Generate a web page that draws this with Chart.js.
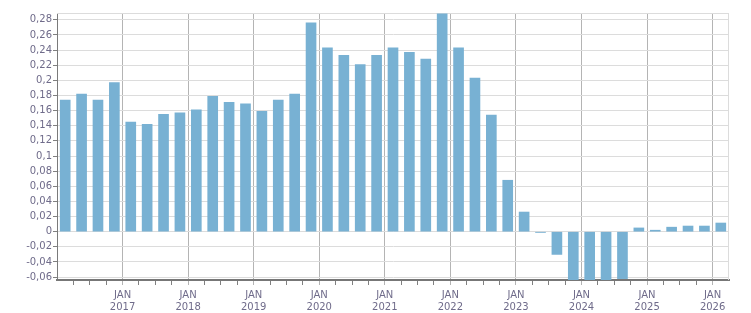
<!DOCTYPE html>
<html>
<head>
<meta charset="utf-8">
<script src="https://cdn.jsdelivr.net/npm/chart.js@4/dist/chart.umd.min.js"></script>
<style>
  html, body { margin: 0; padding: 0; background: #fff; }
  #wrap { width: 751px; height: 313px; position: relative; }
</style>
</head>
<body>
<div id="wrap"><canvas id="c" width="751" height="313"></canvas></div>
<script>
// Quarterly categories, Q1 2016 .. Q1 2026
const categories = [
  '2016 Q1','2016 Q2','2016 Q3','2016 Q4',
  '2017 Q1','2017 Q2','2017 Q3','2017 Q4',
  '2018 Q1','2018 Q2','2018 Q3','2018 Q4',
  '2019 Q1','2019 Q2','2019 Q3','2019 Q4',
  '2020 Q1','2020 Q2','2020 Q3','2020 Q4',
  '2021 Q1','2021 Q2','2021 Q3','2021 Q4',
  '2022 Q1','2022 Q2','2022 Q3','2022 Q4',
  '2023 Q1','2023 Q2','2023 Q3','2023 Q4',
  '2024 Q1','2024 Q2','2024 Q3','2024 Q4',
  '2025 Q1','2025 Q2','2025 Q3','2025 Q4',
  '2026 Q1'
];
const values = [
  0.174, 0.182, 0.174, 0.197,
  0.145, 0.142, 0.155, 0.157,
  0.161, 0.179, 0.171, 0.169,
  0.159, 0.174, 0.182, 0.276,
  0.243, 0.233, 0.221, 0.233,
  0.243, 0.237, 0.228, 0.288,
  0.243, 0.203, 0.154, 0.068,
  0.026, -0.001, -0.030, -0.070,
  -0.072, -0.070, -0.062, 0.005,
  0.002, 0.006, 0.0075, 0.0075,
  0.0115
];
const startYear = 2016;
const yearTickLabels = ['2017','2018','2019','2020','2021','2022','2023','2024','2025','2026'];
const monthLabel = 'JAN';

const TEXT = '#6f6b8a';
const FONT = { family: 'DejaVu Sans', size: 10, lineHeight: 1.2 };

const points = values.map((v, i) => ({ x: i + 0.5, y: v }));

const frame = {
  id: 'frame',
  beforeDatasetsDraw(chart) {
    const { ctx, chartArea: a } = chart;
    ctx.save();
    ctx.strokeStyle = '#dcdcdc';
    ctx.lineWidth = 1;
    ctx.beginPath();
    ctx.moveTo(a.left, Math.round(a.top) + 0.5);
    ctx.lineTo(a.right, Math.round(a.top) + 0.5);
    ctx.moveTo(Math.round(a.right) - 0.5, a.top);
    ctx.lineTo(Math.round(a.right) - 0.5, a.bottom);
    ctx.stroke();
    ctx.restore();
  }
};

new Chart(document.getElementById('c'), {
  type: 'bar',
  data: {
    labels: categories,
    datasets: [{
      data: points,
      backgroundColor: '#78b1d3',
      borderWidth: 0,
      barThickness: 10
    }]
  },
  options: {
    responsive: false,
    animation: false,
    layout: { padding: { left: 0, right: 22, top: 13, bottom: 0 } },
    plugins: { legend: { display: false }, tooltip: { enabled: false } },
    scales: {
      x: {
        type: 'linear',
        min: 0,
        max: categories.length,
        offset: false,
        afterFit(s) { s.height = 33; },
        border: { color: '#777777', width: 2 },
        grid: {
          offset: false,
          color: (c) => (c.tick && c.tick.value % 4 === 0 && c.tick.value > 0 && c.tick.value < categories.length) ? '#b4b4b4' : 'rgba(0,0,0,0)',
          tickColor: (c) => {
            if (!c.tick || c.tick.value <= 0 || c.tick.value >= categories.length) return 'rgba(0,0,0,0)';
            return c.tick.value % 4 === 0 ? '#b4b4b4' : '#808080';
          },
          tickLength: 5,
          lineWidth: 1
        },
        ticks: {
          stepSize: 1,
          autoSkip: false,
          maxTicksLimit: 200,
          maxRotation: 0,
          minRotation: 0,
          padding: 4,
          color: TEXT,
          font: FONT,
          callback: (v) => {
            if (v > 0 && v < categories.length && v % 4 === 0) {
              const y = yearTickLabels.indexOf(String(startYear + v / 4));
              return y >= 0 ? [monthLabel, yearTickLabels[y]] : '';
            }
            return '';
          }
        }
      },
      y: {
        min: -0.0638,
        max: 0.289,
        afterFit(s) { s.width = 57; },
        border: { color: '#7a7a7a', width: 1 },
        grid: {
          color: '#dcdcdc',
          tickColor: '#808080',
          tickLength: 4,
          lineWidth: 1
        },
        ticks: {
          stepSize: 0.02,
          includeBounds: false,
          padding: 1,
          color: TEXT,
          font: FONT,
          callback: (v) => {
            const r = Math.round(v * 100) / 100;
            return String(r).replace('.', ',');
          }
        }
      }
    }
  },
  plugins: [frame]
});
</script>
</body>
</html>
